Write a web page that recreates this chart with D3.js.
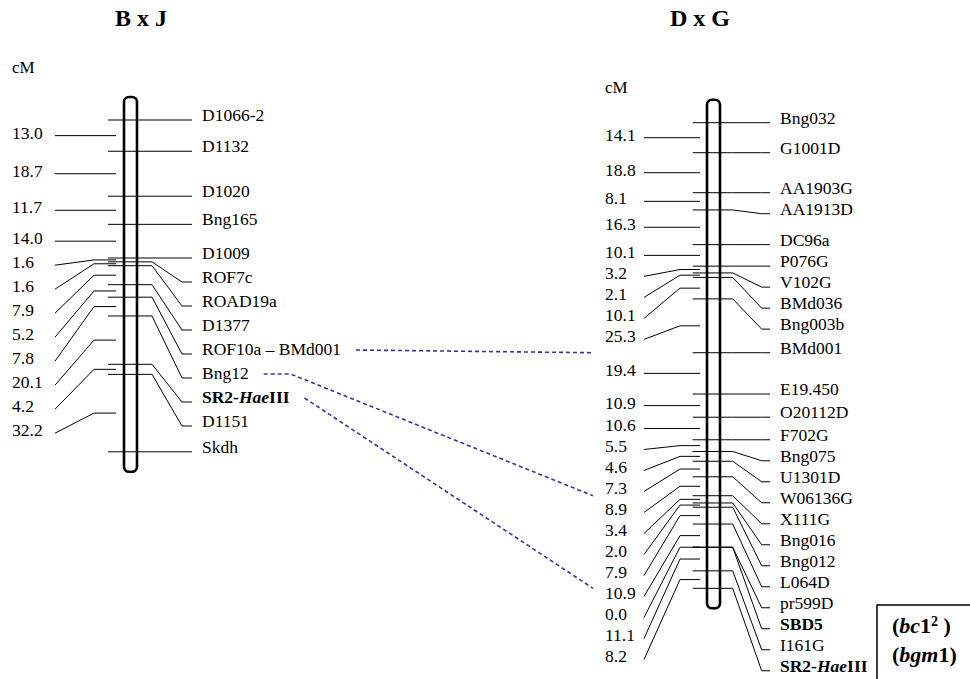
<!DOCTYPE html>
<html>
<head>
<meta charset="utf-8">
<script src="https://cdn.jsdelivr.net/npm/d3@7"></script>
<style>
  body { margin: 0; background: #fff; }
  text { font-family: "Liberation Serif", "Times New Roman", serif; fill: #000; }
</style>
</head>
<body>
<div id="chart"></div>
<script>
const width = 970;
const height = 679;

// B x J map
const bxjMarkers = ["D1066-2", "D1132", "D1020", "Bng165", "D1009", "ROF7c", "ROAD19a",
  "D1377", "ROF10a \u2013 BMd001", "Bng12", "SR2-HaeIII", "D1151", "Skdh"];
const bxjIntervals = [13.0, 18.7, 11.7, 14.0, 1.6, 1.6, 7.9, 5.2, 7.8, 20.1, 4.2, 32.2];

// D x G map
const dxgMarkers = ["Bng032", "G1001D", "AA1903G", "AA1913D", "DC96a", "P076G", "V102G",
  "BMd036", "Bng003b", "BMd001", "E19.450", "O20112D", "F702G", "Bng075", "U1301D",
  "W06136G", "X111G", "Bng016", "Bng012", "L064D", "pr599D", "SBD5", "I161G", "SR2-HaeIII"];
const dxgIntervals = [14.1, 18.8, 8.1, 16.3, 10.1, 3.2, 2.1, 10.1, 25.3, 19.4, 10.9, 10.6,
  5.5, 4.6, 7.3, 8.9, 3.4, 2.0, 7.9, 10.9, 0.0, 11.1, 8.2];

const dxgBold = ["SBD5", "SR2-HaeIII"];
const bxjBold = ["SR2-HaeIII"];

// dotted links between the maps: [B x J marker, D x G marker]
const links = [
  ["ROF10a \u2013 BMd001", "BMd001"],
  ["Bng12", "X111G"],
  ["SR2-HaeIII", "SR2-HaeIII"]
];

const svg = d3.select("#chart")
  .append("svg")
    .attr("width", width)
    .attr("height", height);

// push labels down so they never overlap
function spread(ideal, gap) {
  let prev = -Infinity;
  return ideal.map(function(y) {
    const v = Math.max(y, prev + gap);
    prev = v;
    return v;
  });
}

function writeLabel(sel, name, bold) {
  const parts = name.split(/(Hae)/).filter(s => s.length);
  parts.forEach(function(p) {
    sel.append("tspan")
      .attr("font-style", p === "Hae" ? "italic" : null)
      .text(p);
  });
  if (bold) sel.attr("font-weight", "bold");
}

function drawMap(m) {
  const cum = [0];
  m.intervals.forEach(d => cum.push(cum[cum.length - 1] + d));
  const y = d3.scaleLinear()
    .domain([0, d3.sum(m.intervals)])
    .range([m.top, m.bottom]);

  const g = svg.append("g");
  const markerY = cum.map(d => y(d));
  const markerLabY = spread(markerY, m.gap);
  const midY = m.intervals.map((d, i) => (markerY[i] + markerY[i + 1]) / 2);
  const midLabY = spread(midY, m.gap);

  // chromosome
  g.append("rect")
    .attr("x", m.cx - 6.5)
    .attr("y", m.top - 23)
    .attr("width", 13)
    .attr("height", m.bottom - m.top + 43)
    .attr("rx", 5)
    .attr("fill", "none")
    .attr("stroke", "#000")
    .attr("stroke-width", 2.6);

  // marker lines + labels
  const line = d3.line();
  g.selectAll(".mk")
    .data(m.markers)
    .enter()
    .append("path")
      .attr("d", (d, i) => line([[m.mk[0], markerY[i]], [m.mk[1], markerY[i]],
        [m.mk[2], markerLabY[i]], [m.mk[3], markerLabY[i]]]))
      .attr("fill", "none")
      .attr("stroke", "#000")
      .attr("stroke-width", 1);

  g.selectAll(".mlab")
    .data(m.markers)
    .enter()
    .append("text")
      .attr("x", m.mk[4])
      .attr("y", (d, i) => markerLabY[i] + 1)
      .attr("font-size", "17.5px")
      .each(function(d) { writeLabel(d3.select(this), d, m.bold.includes(d)); });

  // interval lines + labels
  g.selectAll(".iv")
    .data(m.intervals)
    .enter()
    .append("path")
      .attr("d", (d, i) => line([[m.iv[1], midLabY[i]], [m.iv[2], midY[i]], [m.iv[3], midY[i]]]))
      .attr("fill", "none")
      .attr("stroke", "#000")
      .attr("stroke-width", 1);

  g.selectAll(".ilab")
    .data(m.intervals)
    .enter()
    .append("text")
      .attr("x", m.iv[0])
      .attr("y", (d, i) => midLabY[i] + 3)
      .attr("font-size", "17.5px")
      .text(d => d.toFixed(1));

  g.append("text")
    .attr("x", m.titleX)
    .attr("y", 26)
    .attr("text-anchor", "middle")
    .attr("font-size", "24px")
    .attr("font-weight", "bold")
    .text(m.title);

  g.append("text")
    .attr("x", m.iv[0])
    .attr("y", m.cmY)
    .attr("font-size", "17px")
    .text("cM");

  return { y: y, cum: cum, markerY: markerY, markerLabY: markerLabY, g: g };
}

const left = drawMap({
  title: "B x J", titleX: 141, cmY: 73,
  markers: bxjMarkers, intervals: bxjIntervals, bold: bxjBold,
  cx: 130.5, top: 120, bottom: 451.8, gap: 24,
  mk: [108, 152, 182, 192, 202],
  iv: [12, 55, 94, 116]
});

const right = drawMap({
  title: "D x G", titleX: 700, cmY: 93,
  markers: dxgMarkers, intervals: dxgIntervals, bold: dxgBold,
  cx: 713.5, top: 122.7, bottom: 588.3, gap: 21,
  mk: [692.7, 732.7, 761.7, 770, 780],
  iv: [605, 644, 680, 700]
});

// dotted links
const leftTexts = left.g.selectAll("text").nodes();
links.forEach(function(l, k) {
  const i = bxjMarkers.indexOf(l[0]);
  const j = dxgMarkers.indexOf(l[1]);
  const node = leftTexts[i];
  const x0 = 202 + node.getComputedTextLength() + 15;
  const y0 = left.markerLabY[i] - 4;
  const pts = [[x0, y0]];
  if (l[0] === "Bng12") pts.push([x0 + 27, y0]);
  pts.push([593, right.markerY[j]]);
  svg.append("path")
    .attr("d", d3.line()(pts))
    .attr("fill", "none")
    .attr("stroke", "#3434a6")
    .attr("stroke-width", 1.6)
    .attr("stroke-dasharray", "4,3");
});

// allele box
svg.append("rect")
  .attr("x", 877)
  .attr("y", 605)
  .attr("width", 120)
  .attr("height", 100)
  .attr("fill", "#fff")
  .attr("stroke", "#000")
  .attr("stroke-width", 1.5);

const t1 = svg.append("text")
  .attr("x", 892).attr("y", 633)
  .attr("font-size", "22px").attr("font-weight", "bold");
t1.append("tspan").text("(");
t1.append("tspan").attr("font-style", "italic").text("bc");
t1.append("tspan").text("1");
t1.append("tspan").attr("font-size", "14px").attr("baseline-shift", "super").text("2");
t1.append("tspan").text(" )");

const t2 = svg.append("text")
  .attr("x", 892).attr("y", 662)
  .attr("font-size", "22px").attr("font-weight", "bold");
t2.append("tspan").text("(");
t2.append("tspan").attr("font-style", "italic").text("bgm");
t2.append("tspan").text("1)");
</script>
</body>
</html>
